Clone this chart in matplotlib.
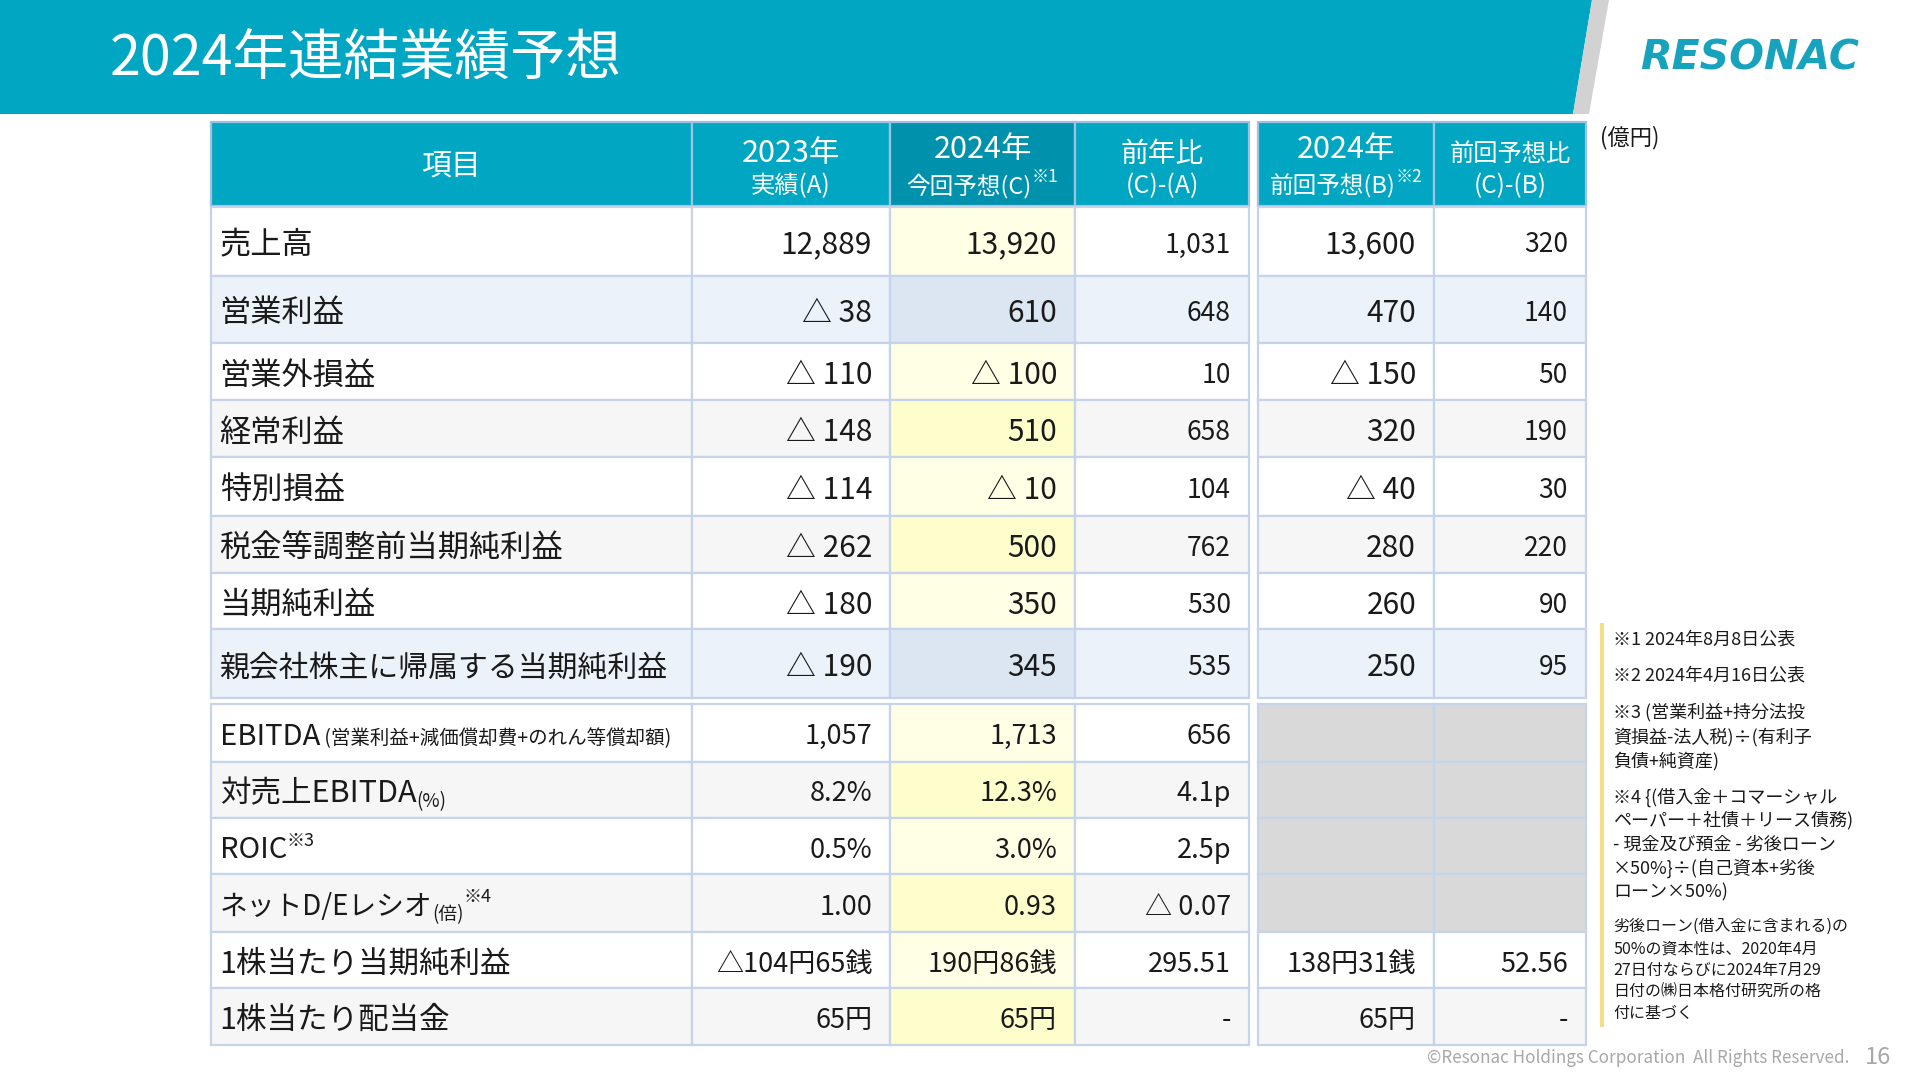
import matplotlib
matplotlib.use("Agg")
import matplotlib.pyplot as plt
from matplotlib.patches import Rectangle, Polygon

plt.rcParams['font.family'] = ['Noto Sans CJK JP', 'DejaVu Sans']

# ---------------- data ----------------
title = "2024年連結業績予想"
unit_label = "(億円)"

main_items = ['売上高', '営業利益', '営業外損益', '経常利益', '特別損益',
              '税金等調整前当期純利益', '当期純利益', '親会社株主に帰属する当期純利益']
actual_2023 = [12889, -38, -110, -148, -114, -262, -180, -190]
forecast_c = [13920, 610, -100, 510, -10, 500, 350, 345]
diff_ca = [1031, 648, 10, 658, 104, 762, 530, 535]
forecast_b = [13600, 470, -150, 320, -40, 280, 260, 250]
diff_cb = [320, 140, 50, 190, 30, 220, 90, 95]

lower_items = ['EBITDA', '対売上EBITDA', 'ROIC', 'ネットD/Eレシオ',
               '1株当たり当期純利益', '1株当たり配当金']
lower_2023 = ['1,057', '8.2%', '0.5%', '1.00', '△104円65銭', '65円']
lower_c = ['1,713', '12.3%', '3.0%', '0.93', '190円86銭', '65円']
lower_ca = ['656', '4.1p', '2.5p', '△ 0.07', '295.51', '-']
lower_b = [None, None, None, None, '138円31銭', '65円']
lower_cb = [None, None, None, None, '52.56', '-']

footnotes = [
    ["※1 2024年8月8日公表"],
    ["※2 2024年4月16日公表"],
    ["※3 (営業利益+持分法投", "資損益-法人税)÷(有利子", "負債+純資産)"],
    ["※4 {(借入金＋コマーシャル", "ペーパー＋社債＋リース債務)",
     "- 現金及び預金 - 劣後ローン", "×50%}÷(自己資本+劣後", "ローン×50%)"],
]
footnote_extra = ["劣後ローン(借入金に含まれる)の", "50%の資本性は、2020年4月",
                  "27日付ならびに2024年7月29", "日付の㈱日本格付研究所の格", "付に基づく"]

# ---------------- layout ----------------
TEAL = '#00A6C2'
TEAL_DARK = '#0092AD'
GRID = '#C6D3EA'
TXT = '#1A1A1A'
ROW_BG = {'w': '#FFFFFF', 'g': '#F6F6F6', 'b': '#ECF2FA'}
C_BG = {'w': '#FFFFE6', 'g': '#FEFDCC', 'b': '#DCE6F3'}

XL = [210.6, 691.8, 890.2, 1075.1, 1249.0]
XR = [1257.6, 1434.0, 1585.7]
YH = [122.4, 206.5]
YU = [206.5, 275.5, 342.9, 400.4, 456.7, 515.5, 573.0, 629.4, 698.0]
YL = [704.0, 761.6, 818.0, 874.3, 931.8, 988.2, 1044.5]
upper_bg = ['w', 'b', 'w', 'g', 'w', 'g', 'w', 'b']
lower_bg = ['w', 'g', 'w', 'g', 'w', 'g']
main_label_size = [22.5, 22.5, 22.5, 22.5, 22.5, 22.5, 22.5, 21.5]
lower_label_size = [21, 22, 21, 20, 22, 22]
DY = 4  # baseline correction for CJK font metrics

fig = plt.figure(figsize=(19.2, 10.8), dpi=100)
ax = fig.add_axes([0, 0, 1, 1])
ax.set_xlim(0, 1920)
ax.set_ylim(1080, 0)
ax.axis('off')
renderer = fig.canvas.get_renderer()


def fmt(v):
    return f"△ {abs(v):,}" if v < 0 else f"{v:,}"


def cell(x0, x1, y0, y1, fc, ec=GRID, lw=1.6):
    ax.add_patch(Rectangle((x0, y0), x1 - x0, y1 - y0, facecolor=fc,
                           edgecolor=ec, linewidth=lw, zorder=1))


def width_of(s, size):
    t = ax.text(0, 0, s, fontsize=size)
    w = t.get_window_extent(renderer).width
    t.remove()
    return w


def rich(x, y, pieces, ha='left', color=TXT):
    """pieces: list of (text, size, dy)"""
    widths = [width_of(s, sz) for s, sz, dy in pieces]
    total = sum(widths)
    if ha == 'center':
        x -= total / 2
    elif ha == 'right':
        x -= total
    for (s, sz, dy), w in zip(pieces, widths):
        ax.text(x, y + dy, s, fontsize=sz, color=color, ha='left', va='center', zorder=3)
        x += w


# banner
ax.add_patch(Polygon([(0, 0), (1592, 0), (1573, 114), (0, 114)], closed=True,
                     facecolor=TEAL, edgecolor='none', zorder=1))
ax.add_patch(Polygon([(1592, 0), (1609, 0), (1589, 114), (1573, 114)], closed=True,
                     facecolor='#D2D2D2', edgecolor='none', zorder=1))
ax.text(110, 60, title, fontsize=40, color='white', ha='left', va='center', zorder=3)
ax.text(1750, 58, 'RESONAC', fontsize=29.5, color='#17A2BE', ha='center', va='center',
        fontweight='bold', fontstyle='italic', family='DejaVu Sans', zorder=3)

# header row
for i in range(4):
    cell(XL[i], XL[i + 1], YH[0], YH[1], TEAL_DARK if i == 2 else TEAL, ec='#9CC3E2')
for i in range(2):
    cell(XR[i], XR[i + 1], YH[0], YH[1], TEAL, ec='#9CC3E2')

ax.text((XL[0] + XL[1]) / 2, 167, '項目', fontsize=21.5, color='white', ha='center', va='center', zorder=3)
hdrs = [((XL[1] + XL[2]) / 2, '2023年', 22, 153, [('実績(A)', 17.5, 0)]),
        ((XL[2] + XL[3]) / 2, '2024年', 22, 149, [('今回予想(C)', 17, 0), ('※1', 12.5, -9)]),
        ((XL[3] + XL[4]) / 2, '前年比', 20, 154, [('(C)-(A)', 18, 0)]),
        ((XR[0] + XR[1]) / 2, '2024年', 22, 149, [('前回予想(B)', 17, 0), ('※2', 12.5, -9)]),
        ((XR[1] + XR[2]) / 2, '前回予想比', 17.5, 154, [('(C)-(B)', 17.5, 0)])]
for cx, top, tsize, ty, bottom in hdrs:
    ax.text(cx, ty, top, fontsize=tsize, color='white', ha='center', va='center', zorder=3)
    rich(cx, 186, bottom, ha='center', color='white')

ax.text(1600, 138, unit_label, fontsize=16, color=TXT, ha='left', va='center', zorder=3)

PAD = 18
# upper table
for r, name in enumerate(main_items):
    y0, y1 = YU[r], YU[r + 1]
    yc = (y0 + y1) / 2 + DY
    bg = upper_bg[r]
    for i in range(4):
        cell(XL[i], XL[i + 1], y0, y1, C_BG[bg] if i == 2 else ROW_BG[bg])
    for i in range(2):
        cell(XR[i], XR[i + 1], y0, y1, ROW_BG[bg])
    ax.text(XL[0] + 9, yc, name, fontsize=main_label_size[r], color=TXT,
            ha='left', va='center', zorder=3)
    vals = [(XL[2], actual_2023[r], 21.5), (XL[3], forecast_c[r], 21.5),
            (XL[4], diff_ca[r], 19), (XR[1], forecast_b[r], 21.5), (XR[2], diff_cb[r], 19)]
    for xr, v, sz in vals:
        ax.text(xr - PAD, yc, fmt(v), fontsize=sz, color=TXT, ha='right', va='center', zorder=3)

# lower table
for r, name in enumerate(lower_items):
    y0, y1 = YL[r], YL[r + 1]
    yc = (y0 + y1) / 2 + DY
    bg = lower_bg[r]
    for i in range(4):
        cell(XL[i], XL[i + 1], y0, y1, C_BG[bg] if i == 2 else ROW_BG[bg])
    for i in range(2):
        fc = '#D9D9D9' if lower_b[r] is None else ROW_BG[bg]
        cell(XR[i], XR[i + 1], y0, y1, fc)
    lx = XL[0] + 9
    sz = lower_label_size[r]
    if r == 0:
        rich(lx, yc, [(name, sz, 0), (' (営業利益+減価償却費+のれん等償却額)', 14, 2)])
    elif r == 1:
        rich(lx, yc, [(name, sz, 0), ('(%)', 13.5, 8)])
    elif r == 2:
        rich(lx, yc, [(name, sz, 0), ('※3', 13, -9)])
    elif r == 3:
        rich(lx, yc, [(name, sz, 0), ('(倍)', 13.5, 8), ('※4', 13, -10)])
    else:
        ax.text(lx, yc, name, fontsize=sz, color=TXT, ha='left', va='center', zorder=3)
    vals = [(XL[2], lower_2023[r]), (XL[3], lower_c[r]), (XL[4], lower_ca[r]),
            (XR[1], lower_b[r]), (XR[2], lower_cb[r])]
    for xr, v in vals:
        if v is not None:
            ax.text(xr - PAD, yc, v, fontsize=19.5, color=TXT, ha='right', va='center', zorder=3)

# footnotes
ax.plot([1602, 1602], [623, 1027], color='#F3DC8A', linewidth=3, solid_capstyle='butt', zorder=2)
ys = [[638], [673.5], [710, 735, 759], [795, 818.5, 842.5, 866, 890]]
for block, yb in zip(footnotes, ys):
    for line, yy in zip(block, yb):
        ax.text(1613, yy + 2, line, fontsize=13, color=TXT, ha='left', va='center', zorder=3)
for line, yy in zip(footnote_extra, [924.5, 946.6, 968.6, 990.6, 1011.5]):
    ax.text(1613, yy + 2, line, fontsize=11.5, color=TXT, ha='left', va='center', zorder=3)

# footer
ax.text(1849, 1058, '©Resonac Holdings Corporation  All Rights Reserved.', fontsize=12.3,
        color='#A8A8A8', ha='right', va='center', zorder=3)
ax.text(1878, 1058, '16', fontsize=17, color='#A8A8A8', ha='center', va='center', zorder=3)

fig.savefig('out.png', dpi=100)
